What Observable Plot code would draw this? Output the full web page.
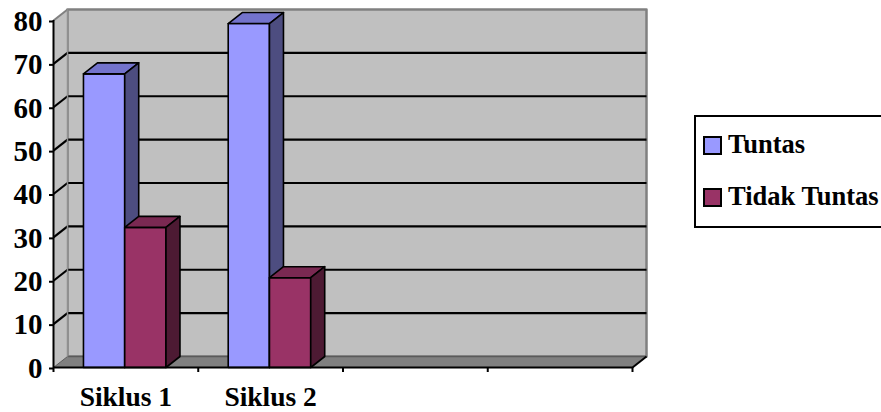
<!DOCTYPE html>
<html>
<head>
<meta charset="utf-8">
<script src="https://cdn.jsdelivr.net/npm/d3@7"></script>
<script src="https://cdn.jsdelivr.net/npm/@observablehq/plot@0.6"></script>
<style>
  html, body { margin: 0; padding: 0; background: #fff; overflow: hidden; width: 881px; height: 412px; }
  #wrap { position: relative; width: 881px; height: 412px; }
  #legend { position: absolute; left: 694px; top: 115px; width: 200px; height: 109px;
            border: 2px solid #000; background: #fff;
            font-family: "Liberation Serif", "Times New Roman", serif; font-weight: bold; font-size: 26.5px; }
  .sw { position: absolute; left: 7px; width: 15px; height: 15px; border: 2px solid #000; }
  .lt { position: absolute; left: 32px; line-height: 26px; white-space: nowrap; }
</style>
</head>
<body>
<div id="wrap"></div>
<script>
// ---- data ----
const categories = ["Siklus 1", "Siklus 2", "", ""];
const seriesNames = ["Tuntas", "Tidak Tuntas"];
const tuntas = [67.7, 79.3];
const tidakTuntas = [32.3, 20.7];
const yTicks = [0, 10, 20, 30, 40, 50, 60, 70, 80];

// ---- styling / layout ----
const W = 881, H = 412;
const mL = 53, mR = 249, mT = 20, mB = 45;
const yMax = 80;
const nCat = categories.length;
// 3D depth expressed in data units (14px right, 11px up)
const DX = 14 * nCat / (W - mL - mR);
const DY = 11 * yMax / (H - mT - mB);
const barStart = 0.207, barW = 0.285;
const colors = {
  "Tuntas": {front: "#9999FF", top: "#7373CC", side: "#4D4D80"},
  "Tidak Tuntas": {front: "#993366", top: "#7A2952", side: "#4D1A33"}
};
const font = "Liberation Serif, Times New Roman, serif";

function poly(pts, fill, stroke = "black", sw = 1.6) {
  return Plot.line(pts, {x: "x", y: "y", curve: "linear-closed", fill, stroke, strokeWidth: sw, strokeLinejoin: "round"});
}

const marks = [];
// back wall
marks.push(poly([{x: DX, y: DY}, {x: nCat + DX, y: DY}, {x: nCat + DX, y: yMax + DY}, {x: DX, y: yMax + DY}], "#C0C0C0", "#808080", 2.5));
// left wall
marks.push(poly([{x: 0, y: 0}, {x: 0, y: yMax}, {x: DX, y: yMax + DY}, {x: DX, y: DY}], "#C0C0C0", "none", 0));
// floor
marks.push(poly([{x: 0, y: 0}, {x: nCat, y: 0}, {x: nCat + DX, y: DY}, {x: DX, y: DY}], "#808080", "none", 0));
marks.push(Plot.link([0], {x1: DX, x2: nCat + DX, y1: DY, y2: DY, stroke: "#5a5a5a", strokeWidth: 1.5}));
marks.push(Plot.link([0], {x1: nCat, x2: nCat + DX, y1: 0, y2: DY, stroke: "black", strokeWidth: 2}));
marks.push(Plot.link([0], {x1: 0, x2: DX, y1: 0, y2: DY, stroke: "#5a5a5a", strokeWidth: 1}));
// gridlines on back wall + left wall
const grid = yTicks.filter(v => v > 0 && v < yMax);
marks.push(Plot.link(grid, {x1: DX, x2: nCat + DX, y1: d => d + DY, y2: d => d + DY, stroke: "black", strokeWidth: 2.2}));
marks.push(Plot.link(grid, {x1: 0, x2: DX, y1: d => d, y2: d => d + DY, stroke: "black", strokeWidth: 2.2}));
marks.push(Plot.link([yMax], {x1: 0, x2: DX, y1: d => d, y2: d => d + DY, stroke: "#808080", strokeWidth: 2}));
marks.push(Plot.link([0], {x1: DX, x2: DX, y1: DY, y2: yMax + DY, stroke: "#909090", strokeWidth: 1.5}));

// bars
function bar(x1, v, c) {
  const x2 = x1 + barW;
  marks.push(poly([{x: x1, y: 0}, {x: x2, y: 0}, {x: x2, y: v}, {x: x1, y: v}], c.front));
  marks.push(poly([{x: x1, y: v}, {x: x2, y: v}, {x: x2 + DX, y: v + DY}, {x: x1 + DX, y: v + DY}], c.top));
  marks.push(poly([{x: x2, y: 0}, {x: x2, y: v}, {x: x2 + DX, y: v + DY}, {x: x2 + DX, y: DY}], c.side));
}
tuntas.forEach((v, i) => {
  bar(i + barStart, v, colors["Tuntas"]);
  bar(i + barStart + barW, tidakTuntas[i], colors["Tidak Tuntas"]);
});

// axes
marks.push(Plot.ruleX([0], {y1: 0, y2: yMax, stroke: "black", strokeWidth: 2}));
marks.push(Plot.ruleY([0], {x1: 0, x2: nCat, stroke: "black", strokeWidth: 2}));
marks.push(Plot.axisY({ticks: yTicks, tickSize: 4, tickPadding: 7, strokeWidth: 2,
  fontSize: 29, fontWeight: "bold", fontFamily: font, fill: "black", label: null, dy: 1}));
marks.push(Plot.axisX({ticks: d3.range(nCat + 1), tickSize: 5, strokeWidth: 2, tickFormat: () => "", label: null}));
marks.push(Plot.text(categories.map((c, i) => ({c, i})), {x: d => d.i + 0.5, y: 0, text: "c", dy: 30,
  fontSize: 27.5, fontWeight: "bold", fontFamily: font, fill: "black"}));

const chart = Plot.plot({
  width: W, height: H,
  marginLeft: mL, marginRight: mR, marginTop: mT, marginBottom: mB,
  x: {domain: [0, nCat], axis: null},
  y: {domain: [0, yMax], axis: null},
  style: {background: "white", overflow: "visible"},
  marks
});
const wrap = document.getElementById("wrap");
wrap.appendChild(chart);

// legend
const legend = document.createElement("div");
legend.id = "legend";
seriesNames.forEach((name, k) => {
  const sw = document.createElement("div");
  sw.className = "sw";
  sw.style.top = (19 + 52 * k) + "px";
  sw.style.background = colors[name].front;
  legend.appendChild(sw);
  const t = document.createElement("div");
  t.className = "lt";
  t.style.top = (14 + 52 * k) + "px";
  t.textContent = name;
  legend.appendChild(t);
});
wrap.appendChild(legend);
</script>
</body>
</html>
